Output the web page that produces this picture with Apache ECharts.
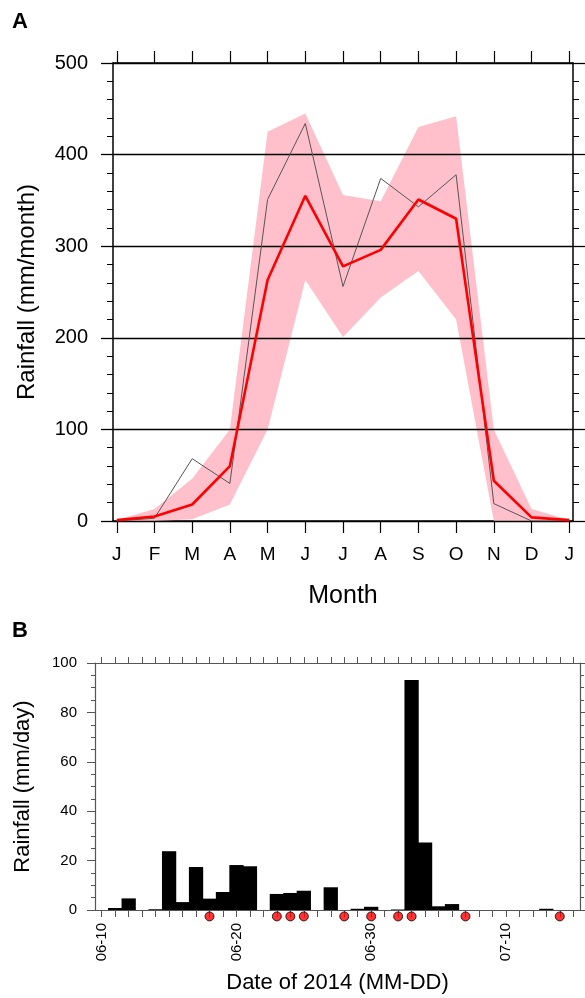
<!DOCTYPE html>
<html>
<head>
<meta charset="utf-8">
<script src="https://cdn.jsdelivr.net/npm/echarts@6/dist/echarts.min.js"></script>
<style>
  html, body { margin: 0; padding: 0; background: #fff; }
  #chart { width: 585px; height: 998px; }
</style>
</head>
<body>
<div id="chart"></div>
<script>
// panel A: monthly rainfall
const monthLabels = ['J', 'F', 'M', 'A', 'M', 'J', 'J', 'A', 'S', 'O', 'N', 'D', 'J'];
const monthIdx = [0, 1, 2, 3, 4, 5, 6, 7, 8, 9, 10, 11, 12];
const meanRain = [1, 5, 18, 60, 263, 355, 278, 296, 351, 330, 44, 4, 1];
const yearRain = [0, 3, 68, 41, 351, 434, 256, 374, 343, 378, 19, 0, 0];
const bandHigh = [1, 13, 46, 100, 425, 445, 356, 349, 430, 442, 100, 13, 1];
const bandLow = [0, 0, 2, 18, 100, 263, 201, 244, 273, 220, 0, 0, 0];

// panel B: daily rainfall 2014
const days = ['06-10', '06-11', '06-12', '06-13', '06-14', '06-15', '06-16', '06-17', '06-18', '06-19',
  '06-20', '06-21', '06-22', '06-23', '06-24', '06-25', '06-26', '06-27', '06-28', '06-29',
  '06-30', '07-01', '07-02', '07-03', '07-04', '07-05', '07-06', '07-07', '07-08', '07-09',
  '07-10', '07-11', '07-12', '07-13', '07-14', '07-15'];
const dailyRain = [0, 0.8, 4.7, 0, 0.3, 23.8, 3.2, 17.4, 4.6, 7.3,
  18.2, 17.7, 0, 6.5, 6.9, 7.8, 0, 9.2, 0, 0.5,
  1.3, 0, 0.2, 93.1, 27.3, 1.5, 2.4, 0, 0, 0,
  0, 0, 0, 0.5, 0, 0];
const markDays = ['06-18', '06-23', '06-24', '06-25', '06-28', '06-30', '07-02', '07-03', '07-07', '07-14'];
const markLevel = -2.6; // dots sit just under the zero line

const font = 'Liberation Sans, Arial, sans-serif';

const pairs = (ys) => monthIdx.map((m, i) => [m, ys[i]]);

const monthAxis = (pos, withLabel) => ({
  type: 'value', gridIndex: 0, position: pos, min: -0.1, max: 12.1,
  axisLine: { onZero: false, lineStyle: { color: '#000', width: 1.5 } },
  axisTick: { show: true, inside: false, length: 12, customValues: monthIdx, lineStyle: { color: '#000', width: 1.2 } },
  axisLabel: {
    show: withLabel, customValues: monthIdx, margin: 24, fontSize: 19, color: '#000', fontFamily: font,
    formatter: (v) => monthLabels[Math.round(v)]
  },
  splitLine: { show: false },
  name: withLabel ? 'Month' : '', nameLocation: 'middle', nameGap: 63,
  nameTextStyle: { fontSize: 25, color: '#000', fontFamily: font }
});

const rainAxisA = (pos, withLabel) => ({
  type: 'value', gridIndex: 0, position: pos, min: 0, max: 500, interval: 100, z: 1.5,
  axisLine: { show: true, onZero: false, lineStyle: { color: '#000', width: 1.5 } },
  axisTick: { show: true, inside: false, length: 12, lineStyle: { color: '#000', width: 1.3 } },
  minorTick: { show: true, splitNumber: 5, length: 6, lineStyle: { color: '#000', width: 1 } },
  axisLabel: { show: withLabel, margin: 25, fontSize: 20, color: '#000', fontFamily: font },
  splitLine: { show: withLabel, lineStyle: { color: '#000', width: 1.3 } },
  name: withLabel ? 'Rainfall (mm/month)' : '', nameLocation: 'middle', nameGap: 74,
  nameTextStyle: { fontSize: 24, color: '#000', fontFamily: font }
});

const dayAxis = (pos, withLabel) => ({
  type: 'category', gridIndex: 1, position: pos, data: days, boundaryGap: true,
  axisLine: { onZero: false, lineStyle: { color: '#555', width: 1.2 } },
  axisTick: { show: true, inside: false, alignWithLabel: true, interval: 0, length: withLabel ? 7 : 6, lineStyle: { color: '#555' } },
  axisLabel: { show: withLabel, interval: 9, rotate: 90, margin: 13, fontSize: 15, color: '#000', fontFamily: font },
  splitLine: { show: false },
  name: withLabel ? 'Date of 2014 (MM-DD)' : '', nameLocation: 'middle', nameGap: 62,
  nameTextStyle: { fontSize: 22, color: '#000', fontFamily: font }
});

const rainAxisB = (pos, withLabel) => ({
  type: 'value', gridIndex: 1, position: pos, min: 0, max: 100, interval: 20,
  axisLine: { show: true, onZero: false, lineStyle: { color: '#555', width: 1.2 } },
  axisTick: { show: true, inside: false, length: 8, lineStyle: { color: '#555' } },
  minorTick: { show: true, splitNumber: 4, length: 4, lineStyle: { color: '#555' } },
  axisLabel: { show: withLabel, margin: 18, fontSize: 15, color: '#000', fontFamily: font },
  splitLine: { show: false },
  name: withLabel ? 'Rainfall (mm/day)' : '', nameLocation: 'middle', nameGap: 61,
  nameTextStyle: { fontSize: 22, color: '#000', fontFamily: font }
});

const chart = echarts.init(document.getElementById('chart'), null, { renderer: 'canvas' });
chart.setOption({
  animation: false,
  backgroundColor: '#fff',
  textStyle: { fontFamily: font },
  graphic: [
    { type: 'text', left: 12, top: 11, style: { text: 'A', fontSize: 22, fontWeight: 'bold', fill: '#000', fontFamily: font } },
    { type: 'text', left: 12, top: 620, style: { text: 'B', fontSize: 22, fontWeight: 'bold', fill: '#000', fontFamily: font } }
  ],
  grid: [
    { left: 113, right: 12, top: 63, bottom: 477 },
    { left: 95, right: 5, top: 663, bottom: 88 }
  ],
  xAxis: [monthAxis('bottom', true), monthAxis('top', false), dayAxis('bottom', true), dayAxis('top', false)],
  yAxis: [rainAxisA('left', true), rainAxisA('right', false), rainAxisB('left', true), rainAxisB('right', false)],
  series: [
    {
      // pink range band between low and high
      type: 'custom', xAxisIndex: 0, yAxisIndex: 0, z: 1,
      data: monthIdx,
      renderItem: (params, api) => {
        if (params.dataIndex !== 0) return null;
        const top = monthIdx.map((m, i) => api.coord([m, bandHigh[i]]));
        const bot = monthIdx.map((m, i) => api.coord([m, bandLow[i]])).reverse();
        return { type: 'polygon', shape: { points: top.concat(bot) }, style: { fill: '#ffc0cb' } };
      }
    },
    {
      type: 'line', xAxisIndex: 0, yAxisIndex: 0, z: 3,
      data: pairs(yearRain), symbol: 'none',
      lineStyle: { color: '#555', width: 1 }
    },
    {
      type: 'line', xAxisIndex: 0, yAxisIndex: 0, z: 4,
      data: pairs(meanRain), symbol: 'none',
      lineStyle: { color: '#ff0000', width: 2.6 }
    },
    {
      type: 'bar', xAxisIndex: 2, yAxisIndex: 2,
      data: dailyRain, barWidth: '106%',
      itemStyle: { color: '#000' }
    },
    {
      type: 'scatter', xAxisIndex: 2, yAxisIndex: 2, clip: false, z: 5,
      data: markDays.map((d) => [d, markLevel]),
      symbol: 'circle', symbolSize: 9,
      itemStyle: { color: '#ff0000', borderColor: '#000', borderWidth: 1 }
    }
  ]
});
</script>
</body>
</html>
